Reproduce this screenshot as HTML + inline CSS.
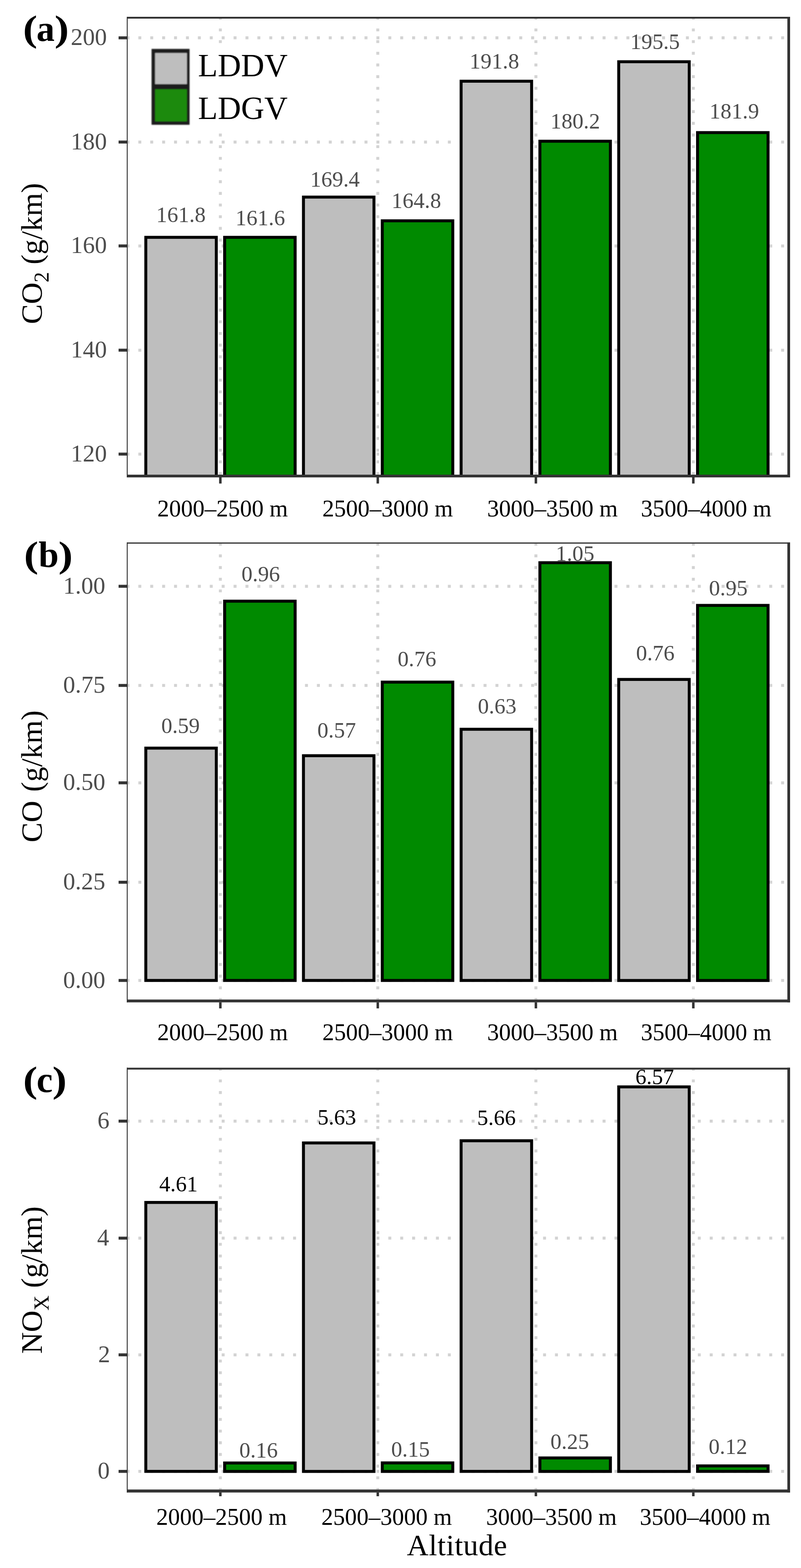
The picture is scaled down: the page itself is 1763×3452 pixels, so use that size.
<!DOCTYPE html>
<html><head><meta charset="utf-8"><title>Emission factors by altitude</title>
<style>html,body{margin:0;padding:0;background:#fff;}svg{display:block;}</style></head>
<body>
<svg width="1763" height="3452" viewBox="0 0 1763 3452" font-family="'Liberation Serif', 'Times New Roman', serif">
<rect width="1763" height="3452" fill="#fff"/>
<clipPath id="clip0"><rect x="281" y="41" width="1452" height="1004"/></clipPath>
<g stroke="#d3d3d3" stroke-width="6.5" fill="none">
<line x1="281" y1="83.3" x2="1733" y2="83.3" stroke-dasharray="6.5 19.7" stroke-dashoffset="2.7"/>
<line x1="281" y1="312.7" x2="1733" y2="312.7" stroke-dasharray="6.5 19.7" stroke-dashoffset="2.7"/>
<line x1="281" y1="541.4" x2="1733" y2="541.4" stroke-dasharray="6.5 19.7" stroke-dashoffset="2.7"/>
<line x1="281" y1="770.9" x2="1733" y2="770.9" stroke-dasharray="6.5 19.7" stroke-dashoffset="2.7"/>
<line x1="281" y1="999.7" x2="1733" y2="999.7" stroke-dasharray="6.5 19.7" stroke-dashoffset="2.7"/>
<line x1="485" y1="41" x2="485" y2="1045" stroke-dasharray="6.4 19.3" stroke-dashoffset="4.0"/>
<line x1="831.5" y1="41" x2="831.5" y2="1045" stroke-dasharray="6.4 19.3" stroke-dashoffset="4.0"/>
<line x1="1179.5" y1="41" x2="1179.5" y2="1045" stroke-dasharray="6.4 19.3" stroke-dashoffset="4.0"/>
<line x1="1526" y1="41" x2="1526" y2="1045" stroke-dasharray="6.4 19.3" stroke-dashoffset="4.0"/>
</g>
<rect x="300" y="96" width="380" height="198" fill="#fff"/>
<text x="343.7" y="488.6" font-size="48.5" fill="#4d4d4d">161.8</text>
<text x="518.3" y="495.6" font-size="48.5" fill="#4d4d4d">161.6</text>
<text x="682.7" y="410.5" font-size="48.5" fill="#4d4d4d">169.4</text>
<text x="861.8" y="457.9" font-size="48.5" fill="#4d4d4d">164.8</text>
<text x="1033.5" y="150.6" font-size="48.5" fill="#4d4d4d">191.8</text>
<text x="1211.6" y="283.4" font-size="48.5" fill="#4d4d4d">180.2</text>
<text x="1387.2" y="107.5" font-size="48.5" fill="#4d4d4d">195.5</text>
<text x="1561.5" y="261.3" font-size="48.5" fill="#4d4d4d">181.9</text>
<g clip-path="url(#clip0)" stroke="#000" stroke-width="6.5">
<rect x="320.9" y="522.5" width="155.2" height="542.5" fill="#bebebe"/>
<rect x="494.4" y="522.5" width="155.2" height="542.5" fill="#008a00"/>
<rect x="667.9" y="433.9" width="155.2" height="631.1" fill="#bebebe"/>
<rect x="841.4" y="486.1" width="155.2" height="578.9" fill="#008a00"/>
<rect x="1014.9" y="178.8" width="155.2" height="886.2" fill="#bebebe"/>
<rect x="1188.3" y="310.9" width="155.2" height="754.0" fill="#008a00"/>
<rect x="1361.8" y="135.9" width="155.2" height="929.0" fill="#bebebe"/>
<rect x="1535.3" y="291.9" width="155.2" height="773.1" fill="#008a00"/>
</g>
<rect x="279" y="37" width="2" height="1014" fill="#333333"/>
<rect x="1733" y="37" width="6" height="1014" fill="#333333"/>
<rect x="279" y="37" width="1460" height="4" fill="#333333"/>
<rect x="279" y="1045" width="1460" height="6" fill="#333333"/>
<rect x="261" y="80.05" width="18" height="6.5" fill="#333333"/>
<text x="155.7" y="99.3" font-size="53" fill="#4d4d4d">200</text>
<rect x="261" y="309.45" width="18" height="6.5" fill="#333333"/>
<text x="155.7" y="328.7" font-size="53" fill="#4d4d4d">180</text>
<rect x="261" y="538.15" width="18" height="6.5" fill="#333333"/>
<text x="155.7" y="557.4" font-size="53" fill="#4d4d4d">160</text>
<rect x="261" y="767.65" width="18" height="6.5" fill="#333333"/>
<text x="155.7" y="786.9" font-size="53" fill="#4d4d4d">140</text>
<rect x="261" y="996.45" width="18" height="6.5" fill="#333333"/>
<text x="155.7" y="1015.7" font-size="53" fill="#4d4d4d">120</text>
<rect x="482.25" y="1051" width="5.5" height="13.5" fill="#333333"/>
<rect x="828.75" y="1051" width="5.5" height="13.5" fill="#333333"/>
<rect x="1176.75" y="1051" width="5.5" height="13.5" fill="#333333"/>
<rect x="1523.25" y="1051" width="5.5" height="13.5" fill="#333333"/>
<text x="346.3" y="1137.2" font-size="52" fill="#000">2000–2500 m</text>
<text x="709.5" y="1137.2" font-size="52" fill="#000">2500–3000 m</text>
<text x="1072.2" y="1137.2" font-size="52" fill="#000">3000–3500 m</text>
<text x="1410.5" y="1137.2" font-size="52" fill="#000">3500–4000 m</text>
<text transform="translate(50.4,90.2) scale(1.19,1)" font-size="80" font-weight="bold" fill="#000">(</text>
<text x="80.3" y="90.2" font-size="80" fill="#000" font-weight="bold">a</text>
<text transform="translate(120.0,90.2) scale(1.19,1)" font-size="80" font-weight="bold" fill="#000">)</text>
<clipPath id="clip1"><rect x="281" y="1196.9" width="1452" height="1003.5999999999999"/></clipPath>
<g stroke="#d3d3d3" stroke-width="6.5" fill="none">
<line x1="281" y1="1290.7" x2="1733" y2="1290.7" stroke-dasharray="6.5 19.7" stroke-dashoffset="2.7"/>
<line x1="281" y1="1509.0" x2="1733" y2="1509.0" stroke-dasharray="6.5 19.7" stroke-dashoffset="2.7"/>
<line x1="281" y1="1723.4" x2="1733" y2="1723.4" stroke-dasharray="6.5 19.7" stroke-dashoffset="2.7"/>
<line x1="281" y1="1942.3" x2="1733" y2="1942.3" stroke-dasharray="6.5 19.7" stroke-dashoffset="2.7"/>
<line x1="281" y1="2158.5" x2="1733" y2="2158.5" stroke-dasharray="6.5 19.7" stroke-dashoffset="2.7"/>
<line x1="485" y1="1196.9" x2="485" y2="2200.5" stroke-dasharray="6.4 19.3" stroke-dashoffset="2.0"/>
<line x1="831.5" y1="1196.9" x2="831.5" y2="2200.5" stroke-dasharray="6.4 19.3" stroke-dashoffset="2.0"/>
<line x1="1179.5" y1="1196.9" x2="1179.5" y2="2200.5" stroke-dasharray="6.4 19.3" stroke-dashoffset="2.0"/>
<line x1="1526" y1="1196.9" x2="1526" y2="2200.5" stroke-dasharray="6.4 19.3" stroke-dashoffset="2.0"/>
</g>
<text x="354.9" y="1614.4" font-size="48.5" fill="#4d4d4d">0.59</text>
<text x="531.4" y="1279.9" font-size="48.5" fill="#4d4d4d">0.96</text>
<text x="698.5" y="1623.8" font-size="48.5" fill="#4d4d4d">0.57</text>
<text x="875.3" y="1467.4" font-size="48.5" fill="#4d4d4d">0.76</text>
<text x="1051.8" y="1571.2" font-size="48.5" fill="#4d4d4d">0.63</text>
<text x="1223.3" y="1235.3" font-size="48.5" fill="#4d4d4d">1.05</text>
<text x="1399.9" y="1454.3" font-size="48.5" fill="#4d4d4d">0.76</text>
<text x="1560.6" y="1310.9" font-size="48.5" fill="#4d4d4d">0.95</text>
<g clip-path="url(#clip1)" stroke="#000" stroke-width="6.5">
<rect x="320.9" y="1647.0" width="155.2" height="511.5" fill="#bebebe"/>
<rect x="494.4" y="1323.5" width="155.2" height="835.0" fill="#008a00"/>
<rect x="667.9" y="1663.7" width="155.2" height="494.8" fill="#bebebe"/>
<rect x="841.4" y="1501.7" width="155.2" height="656.8" fill="#008a00"/>
<rect x="1014.9" y="1605.5" width="155.2" height="553.0" fill="#bebebe"/>
<rect x="1188.3" y="1238.8" width="155.2" height="919.7" fill="#008a00"/>
<rect x="1361.8" y="1495.8" width="155.2" height="662.8" fill="#bebebe"/>
<rect x="1535.3" y="1332.8" width="155.2" height="825.8" fill="#008a00"/>
</g>
<rect x="279" y="1194.2" width="2" height="1012.4999999999998" fill="#333333"/>
<rect x="1733" y="1194.2" width="6" height="1012.4999999999998" fill="#333333"/>
<rect x="279" y="1194.2" width="1460" height="2.7000000000000455" fill="#333333"/>
<rect x="279" y="2200.5" width="1460" height="6.199999999999818" fill="#333333"/>
<rect x="261" y="1287.45" width="18" height="6.5" fill="#333333"/>
<text x="139.1" y="1306.7" font-size="53" fill="#4d4d4d">1.00</text>
<rect x="261" y="1505.75" width="18" height="6.5" fill="#333333"/>
<text x="139.1" y="1525.0" font-size="53" fill="#4d4d4d">0.75</text>
<rect x="261" y="1720.15" width="18" height="6.5" fill="#333333"/>
<text x="139.1" y="1739.4" font-size="53" fill="#4d4d4d">0.50</text>
<rect x="261" y="1939.05" width="18" height="6.5" fill="#333333"/>
<text x="139.1" y="1958.3" font-size="53" fill="#4d4d4d">0.25</text>
<rect x="261" y="2155.25" width="18" height="6.5" fill="#333333"/>
<text x="139.1" y="2174.5" font-size="53" fill="#4d4d4d">0.00</text>
<rect x="482.25" y="2206.7" width="5.5" height="13.300000000000182" fill="#333333"/>
<rect x="828.75" y="2206.7" width="5.5" height="13.300000000000182" fill="#333333"/>
<rect x="1176.75" y="2206.7" width="5.5" height="13.300000000000182" fill="#333333"/>
<rect x="1523.25" y="2206.7" width="5.5" height="13.300000000000182" fill="#333333"/>
<text x="346.3" y="2289.8" font-size="52" fill="#000">2000–2500 m</text>
<text x="709.5" y="2289.8" font-size="52" fill="#000">2500–3000 m</text>
<text x="1072.2" y="2289.8" font-size="52" fill="#000">3000–3500 m</text>
<text x="1410.5" y="2289.8" font-size="52" fill="#000">3500–4000 m</text>
<text transform="translate(52.8,1248) scale(1.19,1)" font-size="80" font-weight="bold" fill="#000">(</text>
<text x="84.7" y="1248.0" font-size="80" fill="#000" font-weight="bold">b</text>
<text transform="translate(128.5,1248) scale(1.19,1)" font-size="80" font-weight="bold" fill="#000">)</text>
<clipPath id="clip2"><rect x="281" y="2354.7" width="1452" height="924.5"/></clipPath>
<g stroke="#d3d3d3" stroke-width="6.5" fill="none">
<line x1="281" y1="2468.2" x2="1733" y2="2468.2" stroke-dasharray="6.5 19.7" stroke-dashoffset="2.7"/>
<line x1="281" y1="2725.8" x2="1733" y2="2725.8" stroke-dasharray="6.5 19.7" stroke-dashoffset="2.7"/>
<line x1="281" y1="2982.7" x2="1733" y2="2982.7" stroke-dasharray="6.5 19.7" stroke-dashoffset="2.7"/>
<line x1="281" y1="3239.3" x2="1733" y2="3239.3" stroke-dasharray="6.5 19.7" stroke-dashoffset="2.7"/>
<line x1="485" y1="2354.7" x2="485" y2="3279.2" stroke-dasharray="6.4 19.3" stroke-dashoffset="4.0"/>
<line x1="831.5" y1="2354.7" x2="831.5" y2="3279.2" stroke-dasharray="6.4 19.3" stroke-dashoffset="4.0"/>
<line x1="1179.5" y1="2354.7" x2="1179.5" y2="3279.2" stroke-dasharray="6.4 19.3" stroke-dashoffset="4.0"/>
<line x1="1526" y1="2354.7" x2="1526" y2="3279.2" stroke-dasharray="6.4 19.3" stroke-dashoffset="4.0"/>
</g>
<text x="350.4" y="2622.9" font-size="48.5" fill="#000">4.61</text>
<text x="526.7" y="3209.4" font-size="48.5" fill="#4d4d4d">0.16</text>
<text x="698.9" y="2475.9" font-size="48.5" fill="#000">5.63</text>
<text x="861.0" y="3207.4" font-size="48.5" fill="#4d4d4d">0.15</text>
<text x="1050.3" y="2476.6" font-size="48.5" fill="#000">5.66</text>
<text x="1211.5" y="3189.7" font-size="48.5" fill="#4d4d4d">0.25</text>
<text x="1398.6" y="2386.5" font-size="48.5" fill="#000">6.57</text>
<text x="1559.8" y="3200.7" font-size="48.5" fill="#4d4d4d">0.12</text>
<g clip-path="url(#clip2)" stroke="#000" stroke-width="6.5">
<rect x="320.9" y="2647.2" width="155.2" height="592.1" fill="#bebebe"/>
<rect x="494.4" y="3220.8" width="155.2" height="18.6" fill="#008a00"/>
<rect x="667.9" y="2516.2" width="155.2" height="723.2" fill="#bebebe"/>
<rect x="841.4" y="3220.6" width="155.2" height="18.8" fill="#008a00"/>
<rect x="1014.9" y="2511.4" width="155.2" height="727.9" fill="#bebebe"/>
<rect x="1188.3" y="3209.7" width="155.2" height="29.7" fill="#008a00"/>
<rect x="1361.8" y="2392.8" width="155.2" height="846.6" fill="#bebebe"/>
<rect x="1535.3" y="3227.2" width="155.2" height="12.1" fill="#008a00"/>
</g>
<rect x="279" y="2350.6" width="2" height="935.2000000000003" fill="#333333"/>
<rect x="1733" y="2350.6" width="6" height="935.2000000000003" fill="#333333"/>
<rect x="279" y="2350.6" width="1460" height="4.099999999999909" fill="#333333"/>
<rect x="279" y="3279.2" width="1460" height="6.600000000000364" fill="#333333"/>
<rect x="261" y="2464.95" width="18" height="6.5" fill="#333333"/>
<text x="214.6" y="2484.2" font-size="53" fill="#4d4d4d">6</text>
<rect x="261" y="2722.55" width="18" height="6.5" fill="#333333"/>
<text x="213.8" y="2741.8" font-size="53" fill="#4d4d4d">4</text>
<rect x="261" y="2979.45" width="18" height="6.5" fill="#333333"/>
<text x="215.9" y="2998.7" font-size="53" fill="#4d4d4d">2</text>
<rect x="261" y="3236.05" width="18" height="6.5" fill="#333333"/>
<text x="215.0" y="3255.3" font-size="53" fill="#4d4d4d">0</text>
<rect x="482.25" y="3285.8" width="5.5" height="8.199999999999818" fill="#333333"/>
<rect x="828.75" y="3285.8" width="5.5" height="8.199999999999818" fill="#333333"/>
<rect x="1176.75" y="3285.8" width="5.5" height="8.199999999999818" fill="#333333"/>
<rect x="1523.25" y="3285.8" width="5.5" height="8.199999999999818" fill="#333333"/>
<text x="344.0" y="3356.5" font-size="52" fill="#000">2000–2500 m</text>
<text x="707.2" y="3356.5" font-size="52" fill="#000">2500–3000 m</text>
<text x="1069.9" y="3356.5" font-size="52" fill="#000">3000–3500 m</text>
<text x="1408.2" y="3356.5" font-size="52" fill="#000">3500–4000 m</text>
<text transform="translate(50.7,2403.5) scale(1.19,1)" font-size="80" font-weight="bold" fill="#000">(</text>
<text x="80.4" y="2403.5" font-size="80" fill="#000" font-weight="bold">c</text>
<text transform="translate(115.2,2403.5) scale(1.19,1)" font-size="80" font-weight="bold" fill="#000">)</text>
<filter id="lb" x="-10%" y="-10%" width="120%" height="120%"><feGaussianBlur stdDeviation="1.1"/></filter>
<g filter="url(#lb)"><rect x="333.6" y="107.7" width="83.6" height="166.9" fill="#1a1a1a"/><rect x="341.3" y="116.6" width="70.2" height="68.6" fill="#bebebe"/><rect x="341.3" y="196.4" width="70.2" height="70.9" fill="#1a8a08"/></g>
<text x="435.8" y="168.2" font-size="71" fill="#000">LDDV</text>
<text x="435.8" y="262.2" font-size="71" fill="#000">LDGV</text>
<text transform="translate(92,713.5) rotate(-90)" font-size="66" fill="#000">CO<tspan font-size="46" dy="15">2</tspan><tspan dy="-15" font-size="66"> (g/km)</tspan></text>
<text transform="translate(92,1854.5) rotate(-90)" font-size="66" word-spacing="3" fill="#000">CO (g/km)</text>
<text transform="translate(92,2980.5) rotate(-90)" font-size="66" fill="#000">NO<tspan font-size="46" dy="15">X</tspan><tspan dy="-15" font-size="66"> (g/km)</tspan></text>
<text x="895.6" y="3424.3" font-size="66" fill="#000" letter-spacing="0.6">Altitude</text>
</svg>
</body></html>
